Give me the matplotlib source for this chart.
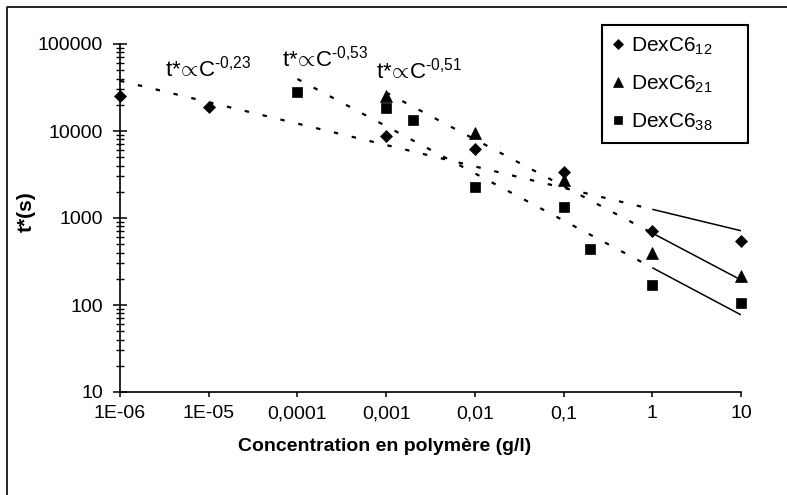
import matplotlib
matplotlib.use('Agg')
import matplotlib.pyplot as plt
import numpy as np
from matplotlib.lines import Line2D
from matplotlib.ticker import LogLocator, NullLocator, FixedLocator, FixedFormatter

plt.rcParams['font.family'] = ['Liberation Sans', 'DejaVu Sans']
plt.rcParams['mathtext.fontset'] = 'custom'
plt.rcParams['mathtext.rm'] = 'Liberation Sans'
plt.rcParams['mathtext.it'] = 'Liberation Sans:italic'
plt.rcParams['mathtext.bf'] = 'Liberation Sans:bold'
plt.rcParams['mathtext.sf'] = 'Liberation Sans'
plt.rcParams['lines.scale_dashes'] = False

# ---------------- data ----------------
conc_12 = [1e-6, 1e-5, 1e-3, 1e-2, 0.1, 1, 10]
t_12 = [25000, 19000, 8800, 6200, 3400, 710, 550]

conc_21 = [1e-3, 1e-2, 0.1, 1, 10]
t_21 = [25000, 9500, 2700, 400, 215]

conc_38 = [1e-4, 1e-3, 2e-3, 1e-2, 0.1, 0.2, 1, 10]
t_38 = [28000, 18400, 13400, 2300, 1350, 435, 170, 106]

series_labels = ['DexC6$_{\\mathrm{12}}$', 'DexC6$_{\\mathrm{21}}$', 'DexC6$_{\\mathrm{38}}$']

# power-law guide lines: start concentration, t* at start, t* at end (C = 10)
fit_c_start = [1e-6, 1e-4, 1e-3]
fit_t_start = [37800, 39600, 27700]
fit_t_end = [714, 77, 194]
fit_c_end = 10
fit_c_solid = 1          # lines become solid from here to the end
fit_labels = ['0{,}23', '0{,}53', '0{,}51']

x_ticks = [1e-6, 1e-5, 1e-4, 1e-3, 1e-2, 0.1, 1, 10]
x_ticklabels = ['1E-06', '1E-05', '0,0001', '0,001', '0,01', '0,1', '1', '10']
y_ticks = [10, 100, 1000, 10000, 100000]
y_ticklabels = ['10', '100', '1000', '10000', '100000']

# ---------------- figure ----------------
W, H = 787, 495
fig = plt.figure(figsize=(W / 100, H / 100), dpi=100)
fig.patch.set_facecolor('white')
ax = fig.add_axes([120 / W, (H - 392) / H, 621 / W, 348 / H])

ax.set_xscale('log')
ax.set_yscale('log')
ax.set_xlim(1e-6, 10)
ax.set_ylim(10, 1e5)

# guide lines
for cs, ts, te in zip(fit_c_start, fit_t_start, fit_t_end):
    slope = np.log10(te / ts) / np.log10(fit_c_end / cs)
    c_dash = np.array([cs, fit_c_solid])
    c_sol = np.array([fit_c_solid, fit_c_end])
    ax.plot(c_dash, ts * (c_dash / cs) ** slope, color='black', lw=1.6,
            dashes=(3.2, 10.0), zorder=2)
    ax.plot(c_sol, ts * (c_sol / cs) ** slope, color='black', lw=1.1,
            solid_capstyle='butt', zorder=2)

# data points
pad = '     '
ax.plot(conc_12, t_12, linestyle='none', marker='D', ms=6.0, color='black',
        mew=0.5, label=series_labels[0] + pad, zorder=3, clip_on=False)
ax.plot(conc_21, t_21, linestyle='none', marker='^', ms=8.5, color='black',
        mew=0.5, label=series_labels[1] + pad, zorder=3, clip_on=False)
ax.plot(conc_38, t_38, linestyle='none', marker='s', ms=7.0, color='black',
        mew=0.5, label=series_labels[2] + pad, zorder=3, clip_on=False)

# axes styling
for s in ['top', 'right']:
    ax.spines[s].set_visible(False)
for s in ['left', 'bottom']:
    ax.spines[s].set_linewidth(1.2)

ax.xaxis.set_major_locator(FixedLocator(x_ticks))
ax.xaxis.set_major_formatter(FixedFormatter(x_ticklabels))
ax.xaxis.set_minor_locator(NullLocator())
ax.yaxis.set_major_locator(FixedLocator(y_ticks))
ax.yaxis.set_major_formatter(FixedFormatter(y_ticklabels))
ax.yaxis.set_minor_locator(LogLocator(base=10, subs=np.arange(2, 10)))

ax.tick_params(axis='y', which='major', direction='inout', length=9.4, width=1.1,
               labelsize=14, pad=7.5)
ax.tick_params(axis='y', which='minor', direction='inout', length=5.8, width=1.0)
ax.tick_params(axis='x', which='major', direction='out', length=3.6, width=1.1,
               labelsize=14, pad=6)

ax.set_xlabel('Concentration en polymère (g/l)', fontsize=14, fontweight='bold')
ax.xaxis.set_label_coords((385 - 120) / 621, (392 - 438) / 348)
ax.set_ylabel('t*(s)', fontsize=15, fontweight='bold')
ax.yaxis.set_label_coords((36 - 120) / 621, (392 - 212) / 348)

# annotations
ann_pos = [((165 - 120) / 621, (392 - 76) / 348),
           ((282 - 120) / 621, (392 - 66) / 348),
           ((376 - 120) / 621, (392 - 79) / 348)]
for (px, py), lab in zip(ann_pos, fit_labels):
    ax.text(px, py, 't*$\\!\\propto\\!$C$^{\\mathrm{\u2010' + lab + '}}$',
            transform=ax.transAxes, fontsize=16, ha='left', va='baseline')

# legend
leg = ax.legend(loc='upper left', bbox_to_anchor=(602 / W, 1 - 25 / H),
                bbox_transform=fig.transFigure, borderaxespad=0,
                fancybox=False, edgecolor='black', framealpha=1, fontsize=15,
                markerscale=0.8, handlelength=0.5, handletextpad=0.4,
                borderpad=0.5, labelspacing=0.8)
leg.get_frame().set_linewidth(1.5)

# outer chart frame (only top and left edges are inside the picture)
fig.add_artist(Line2D([7 / W, 7 / W, 1.0], [0.0, 1 - 7 / H, 1 - 7 / H],
                      transform=fig.transFigure, color='black', lw=1.2))

fig.savefig('out.png', dpi=100, facecolor='white')
